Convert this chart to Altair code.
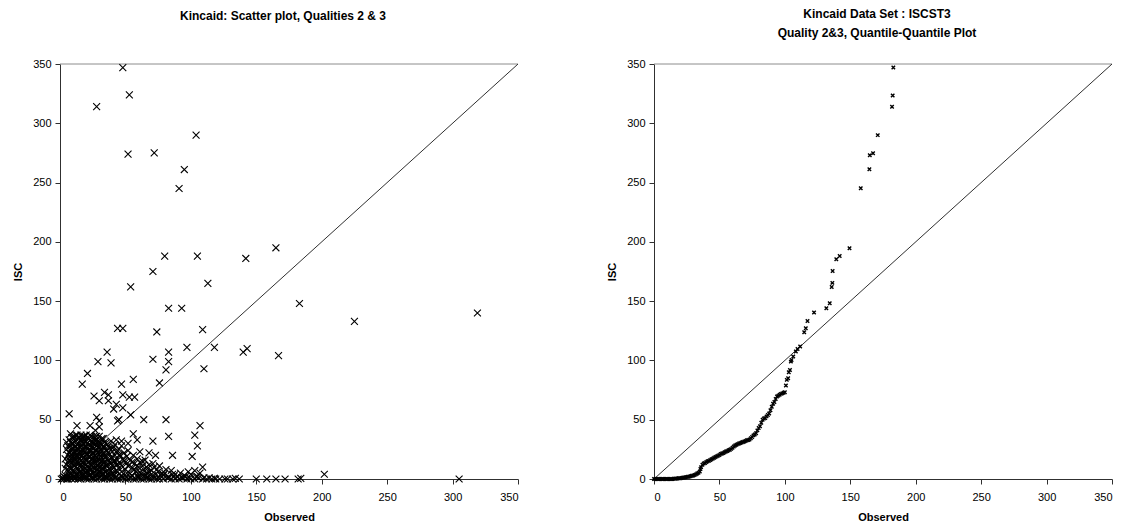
import altair as alt
import pandas as pd

FONT = "Liberation Sans"
TICKS = [0, 50, 100, 150, 200, 250, 300, 350]
AXIS_MAX = 350

# ---------------- Left panel: scatter (Observed, ISC) ----------------
scatter_high = [
    (48, 347), (28, 314), (53, 324), (52, 274), (72, 275), (104, 290), (95, 261),
    (91, 245), (80, 188), (105, 188), (142, 186), (165, 195), (113, 165), (54, 162),
    (71, 175), (83, 144), (93, 144), (183, 148), (225, 133), (319, 140),
    (44, 127), (48, 127), (74, 124), (109, 126), (97, 111), (118, 111),
    (140, 107), (143, 110), (167, 104), (110, 93),
]
scatter_mid = [
    (36, 107), (83, 107), (71, 101), (83, 99), (29, 99), (39, 98), (81, 92),
    (21, 89), (76, 81), (17, 80), (47, 80), (56, 84), (26, 70), (34, 73),
    (30, 66), (37, 71), (37, 66), (48, 71), (53, 69), (57, 69), (43, 63),
    (41, 59), (48, 60), (7, 55), (13, 45), (28, 52), (30, 49), (44, 49),
    (45, 50), (54, 54), (64, 50), (81, 50), (107, 45), (23, 45), (27, 41),
    (30, 44), (103, 37), (83, 36), (56, 38), (59, 33), (71, 32), (43, 33),
    (47, 32), (52, 30), (105, 28), (61, 23), (68, 22), (73, 20), (86, 20),
    (101, 19), (109, 10),
]
scatter_cluster = [
    (5, 12), (6, 20), (6, 28), (7, 5), (7, 16), (7, 33), (8, 9), (8, 24), (8, 38),
    (9, 3), (9, 14), (9, 30), (10, 7), (10, 19), (10, 26), (10, 35), (11, 11),
    (11, 22), (11, 31), (12, 4), (12, 16), (12, 27), (12, 37), (13, 9), (13, 20),
    (13, 33), (14, 2), (14, 13), (14, 25), (14, 30), (15, 6), (15, 17), (15, 22),
    (15, 35), (16, 10), (16, 28), (16, 33), (17, 3), (17, 14), (17, 20), (17, 25),
    (18, 8), (18, 18), (18, 30), (18, 36), (19, 12), (19, 23), (19, 27), (20, 5),
    (20, 16), (20, 32), (21, 10), (21, 21), (21, 26), (21, 35), (22, 3), (22, 14),
    (22, 29), (23, 8), (23, 19), (23, 24), (23, 33), (24, 12), (24, 27), (24, 36),
    (25, 5), (25, 17), (25, 22), (25, 31), (26, 9), (26, 26), (26, 34), (27, 14),
    (27, 20), (27, 29), (28, 4), (28, 11), (28, 24), (28, 33), (29, 17), (29, 27),
    (30, 7), (30, 21), (30, 31), (31, 13), (31, 25), (32, 3), (32, 18), (32, 29),
    (33, 9), (33, 22), (34, 14), (34, 27), (35, 6), (35, 19), (36, 11), (36, 24),
    (37, 16), (38, 8), (38, 21), (39, 13), (40, 5), (40, 18), (41, 10), (42, 15),
    (43, 7), (44, 12), (45, 20), (9, 21), (11, 17), (13, 26), (15, 11), (17, 31),
    (19, 6), (21, 16), (23, 28), (25, 10), (27, 35), (29, 8), (31, 19), (6, 8),
    (8, 15), (10, 12), (12, 22), (14, 19), (16, 4), (18, 24), (20, 27), (22, 9),
    (24, 20), (26, 15), (28, 18), (30, 26), (32, 12), (34, 20), (30, 36), (33, 34),
    (35, 30), (37, 28), (39, 32), (40, 26), (42, 29), (43, 23), (45, 25), (46, 20),
    (47, 28), (48, 17), (49, 22), (50, 14), (51, 19), (52, 24), (53, 12), (54, 16),
    (55, 9), (56, 20), (57, 13), (58, 6), (59, 17), (60, 10), (61, 14), (62, 4),
    (63, 11), (64, 8), (65, 16), (66, 5), (67, 9), (68, 12), (69, 3), (70, 7),
    (72, 10), (73, 4), (75, 6), (77, 3), (80, 5), (83, 2), (86, 4), (90, 2),
    (95, 3), (98, 6), (104, 2), (107, 5), (36, 4), (41, 3), (44, 6), (47, 2),
    (51, 5), (55, 3), (60, 2), (65, 3),
]
scatter_core = [
    (4, 3), (4, 9), (4, 17), (5, 25), (5, 31), (6, 2), (6, 14), (7, 10), (7, 22),
    (7, 27), (8, 4), (8, 19), (8, 31), (9, 9), (9, 26), (9, 35), (10, 2), (10, 15),
    (10, 30), (11, 6), (11, 27), (11, 36), (12, 10), (12, 19), (12, 32), (13, 3),
    (13, 14), (13, 29), (13, 37), (14, 8), (14, 22), (14, 34), (15, 1), (15, 14),
    (15, 27), (16, 7), (16, 19), (16, 24), (16, 37), (17, 11), (17, 28), (17, 35),
    (18, 3), (18, 14), (18, 21), (18, 33), (19, 9), (19, 17), (19, 31), (19, 36),
    (20, 2), (20, 12), (20, 21), (20, 37), (21, 7), (21, 30), (22, 19), (22, 24),
    (22, 34), (23, 4), (23, 13), (23, 37), (24, 8), (24, 16), (24, 24), (24, 31),
    (25, 1), (25, 13), (25, 27), (25, 35), (26, 5), (26, 19), (26, 30), (27, 9),
    (27, 24), (27, 32), (28, 15), (28, 21), (28, 28), (28, 36), (29, 4), (29, 12),
    (29, 22), (29, 32), (30, 10), (30, 16), (30, 28), (31, 5), (31, 22), (31, 30),
    (32, 9), (32, 15), (32, 24), (32, 34), (33, 5), (33, 13), (33, 27), (34, 2),
    (34, 10), (34, 18), (34, 31), (35, 12), (35, 24), (36, 7), (36, 17), (36, 29),
    (37, 3), (37, 12), (37, 22), (38, 14), (38, 26), (39, 7), (39, 18), (40, 11),
    (40, 23), (41, 15), (41, 27), (42, 6), (42, 20), (43, 12), (44, 16), (44, 24),
    (45, 9), (46, 13), (47, 6), (48, 10), (49, 15), (50, 8), (52, 11), (53, 5),
    (55, 14), (57, 8), (59, 11), (61, 6), (63, 15), (66, 10), (68, 6), (71, 13),
    (74, 8), (76, 11), (78, 5), (81, 8), (85, 7), (88, 4), (92, 5), (96, 2),
    (100, 4), (103, 7),
]
scatter_base = [
    (1, 0), (2, 0.5), (3, 0), (4, 1), (5, 0), (6, 0), (8, 1), (9, 0), (11, 0),
    (12, 1), (14, 0), (16, 0), (18, 1), (20, 0), (22, 0), (24, 1), (26, 0),
    (28, 0), (30, 1), (32, 0), (34, 0), (36, 1), (38, 0), (40, 0), (42, 1),
    (44, 0), (46, 0), (48, 1), (50, 0), (52, 0), (54, 1), (56, 0), (58, 0),
    (60, 1), (62, 0), (64, 0), (66, 1), (68, 0), (70, 0), (72, 1), (74, 0),
    (76, 0), (79, 0), (82, 1), (85, 0), (88, 0), (91, 0), (94, 1), (97, 0),
    (100, 0), (103, 0), (106, 1), (109, 0), (112, 0), (116, 0), (119, 0),
    (122, 0), (132, 0), (134, 0.5), (137, 0), (150, 0), (158, 0), (165, 0),
    (172, 0), (182, 0), (184, 0.5), (202, 4), (305, 0),
    (3, 2), (7, 3), (11, 2), (15, 3), (19, 2), (23, 3), (27, 2), (31, 3), (35, 2),
    (39, 3), (43, 2), (47, 3), (51, 2), (55, 3), (59, 2), (63, 3), (67, 2),
    (71, 3), (75, 2), (79, 3), (83, 1), (87, 2), (93, 1), (99, 1), (105, 2),
    (110, 1), (114, 1), (118, 0.5), (126, 0), (128, 0),
]

# ---------------- Right panel: quantile-quantile ----------------
qq_obs = [
    0, 1, 2, 3, 4, 5, 6, 7, 8, 9, 10, 11, 12, 13, 14, 15, 16, 17, 18, 19, 20, 21,
    22, 23, 24, 25, 26, 27, 28, 29, 30, 31, 32, 33, 34, 35, 35.5, 36, 37, 38, 39,
    40, 41, 42, 43, 44, 45, 46, 47, 48, 49, 50, 51, 52, 53, 54, 55, 56, 57, 58,
    59, 60, 61, 62, 63, 64, 65, 66, 67, 68, 69, 70, 71, 72, 73, 74, 75, 76, 77,
    78, 79, 80, 81, 82, 83, 84, 85, 86, 87, 88, 89, 90, 91, 92, 93, 94, 95, 96,
    97, 98, 99, 100, 100.8, 101.5, 102.5, 103, 103.9, 104.6, 105.1, 106.4, 108.4,
    109.7, 111.7, 114.8, 116, 117.3, 122.3, 131.7, 134.3, 135.8, 136.3, 136.5,
    139.3, 141.9, 149.4, 158, 164.6, 164.9, 167.4, 171, 181.9, 182.4, 182.9,
]
qq_isc = [
    0, 0, 0, 0, 0, 0, 0, 0, 0, 0, 0, 0, 0, 0, 0, 0.2, 0.3, 0.4, 0.5, 0.6, 0.7, 0.9,
    1.0, 1.2, 1.4, 1.6, 1.9, 2.1, 2.4, 2.7, 3.0, 3.4, 3.9, 4.6, 5.3, 6.3, 8.5, 10,
    12, 13, 13.5, 14.3, 15, 15.3, 16, 16.6, 17.2, 17.9, 18.6, 19.1, 19.7, 20.3,
    21, 21.5, 22, 22.6, 23.2, 23.7, 24.2, 24.6, 25.4, 26.3, 27.4, 28.3, 28.9,
    29.4, 29.9, 30.3, 30.8, 31.2, 31.6, 32.1, 32.6, 32.9, 33.3, 34.4, 35.5, 36.8,
    37.6, 38.6, 41, 43, 44.5, 47.5, 50, 51, 51.5, 52.8, 54, 55.3, 58, 61, 63.5,
    65, 67.5, 69.5, 70.3, 71, 71.8, 72.2, 72.7, 73.2, 78.8, 83.6, 85, 90, 92, 99,
    100.4, 103.3, 107.5, 109.7, 111.7, 123.8, 127.2, 133.3, 140.4, 144, 148.2,
    162, 165.4, 175.5, 185.3, 188, 194.6, 245.2, 261.2, 273, 274.7, 290, 314,
    323.4, 347,
]

# reference lines
diag_obs = [0, AXIS_MAX]
diag_isc = [0, AXIS_MAX]

left_titles = "Kincaid: Scatter plot, Qualities 2 & 3"
right_titles = ["Kincaid Data Set : ISCST3", "Quality 2&3, Quantile-Quantile Plot"]

scatter_pairs = scatter_high + scatter_mid + scatter_cluster + scatter_core + scatter_base
scatter_df = pd.DataFrame(scatter_pairs, columns=["obs", "isc"])
qq_df = pd.DataFrame({"obs": qq_obs, "isc": qq_isc})
diag_df = pd.DataFrame({"obs": diag_obs, "isc": diag_isc})
top_df = pd.DataFrame({"obs": [0], "obs_end": [AXIS_MAX], "isc": [AXIS_MAX]})

XPATH = "M-1,-1L1,1M-1,1L1,-1"
W, H = 458, 415


def panel(df, title, size, sw, offset):
    xs = alt.Scale(domain=[0, AXIS_MAX], nice=False, zero=True)
    ys = alt.Scale(domain=[0, AXIS_MAX], nice=False, zero=True)
    xaxis = alt.Axis(values=TICKS, title="Observed", labelPadding=7, titlePadding=9,
                     format="d")
    yaxis = alt.Axis(values=TICKS, title="ISC", labelPadding=4, titlePadding=9,
                     format="d")
    top = alt.Chart(top_df).mark_rule(color="#8c8c8c", strokeWidth=1).encode(
        x=alt.X("obs:Q", scale=xs, axis=xaxis),
        x2="obs_end:Q",
        y=alt.Y("isc:Q", scale=ys, axis=yaxis),
    )
    diag = alt.Chart(diag_df).mark_line(color="#303030", strokeWidth=1).encode(
        x=alt.X("obs:Q", scale=xs),
        y=alt.Y("isc:Q", scale=ys),
    )
    pts = alt.Chart(df).mark_point(
        shape=XPATH, filled=False, stroke="black", strokeWidth=sw, size=size, opacity=1
    ).encode(
        x=alt.X("obs:Q", scale=xs),
        y=alt.Y("isc:Q", scale=ys),
    )
    return alt.layer(top, diag, pts).properties(
        width=W, height=H,
        title=alt.Title(text=title, fontSize=12, font=FONT, fontWeight="bold",
                        anchor="middle", dx=-6, offset=offset, color="black",
                        lineHeight=19),
    )


left = panel(scatter_df, left_titles, 48, 1.1, 35)
right = panel(qq_df, right_titles, 12, 1.4, 18)

chart = alt.hconcat(left, right, spacing=86).properties(
    padding={"left": 4, "top": 0, "right": 0, "bottom": 0}
).configure_view(stroke=None).configure_axis(
    grid=False, domainColor="#303030", tickColor="#303030", tickSize=5,
    labelFont=FONT, labelFontSize=11, labelColor="black",
    titleFont=FONT, titleFontSize=11, titleFontWeight="bold", titleColor="black",
)

chart.save("out.html", embed_options={"renderer": "svg", "actions": False})
